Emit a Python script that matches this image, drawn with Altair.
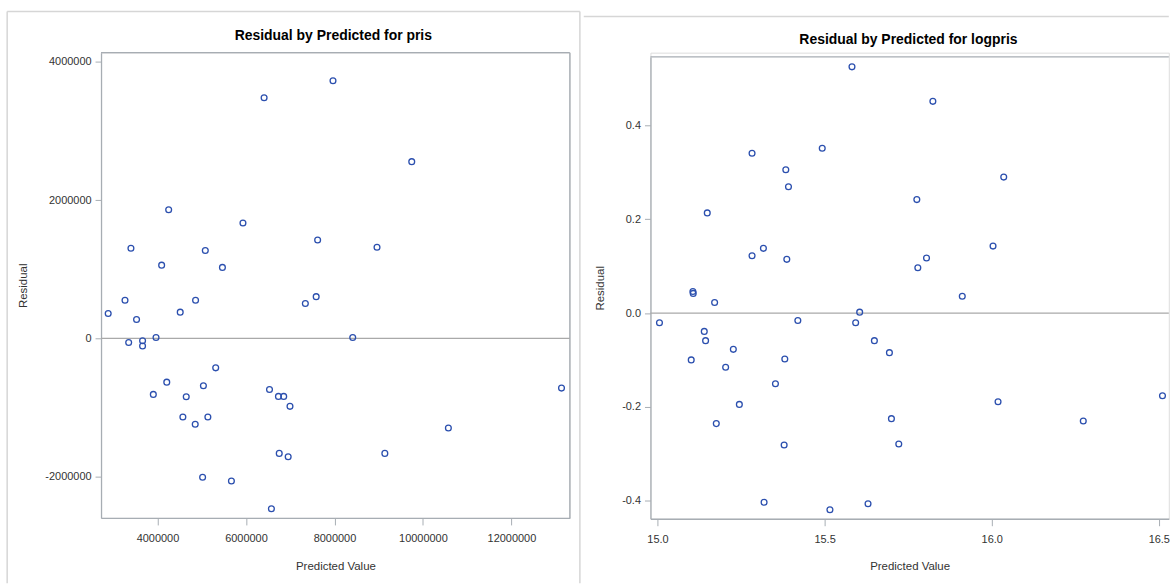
import altair as alt
import pandas as pd

# ---------------- data ----------------
pred_pris = [6410000, 7967000, 9747000, 4253000, 5932000, 7620000, 3400000, 5081000,
             8962000, 4094000, 5468000, 2886000, 3266000, 4861000, 4514000, 3527000,
             7342000, 7587000, 3349000, 3663000, 3663000, 3967000, 8413000, 5316000,
             4210000, 5038000, 3906000, 4650000, 6532000, 6734000, 6853000, 6995000,
             13132000, 4574000, 5139000, 4853000, 10575000, 6752000, 6954000, 9139000,
             5020000, 5671000, 6575000]
resid_pris = [3482000, 3727000, 2557000, 1862000, 1669000, 1424000, 1305000, 1272000,
              1319000, 1060000, 1027000, 360000, 552000, 552000, 380000, 273000,
              504000, 604000, -58000, -33000, -110000, 14000, 14000, -426000,
              -633000, -685000, -810000, -843000, -738000, -839000, -839000, -983000,
              -719000, -1137000, -1137000, -1242000, -1295000, -1663000, -1712000, -1663000,
              -2009000, -2062000, -2465000]

pred_log = [15.582, 15.824, 15.283, 15.493, 15.384, 15.392, 16.036, 15.776, 15.149,
            16.004, 15.283, 15.317, 15.387, 15.779, 15.805, 15.106, 15.107, 15.912,
            15.171, 15.006, 15.605, 15.593, 15.420, 15.140, 15.144, 15.649, 15.227,
            15.694, 15.101, 15.381, 15.204, 15.353, 15.245, 16.019, 16.511, 15.700,
            15.176, 16.274, 15.379, 15.722, 15.319, 15.516, 15.630]
resid_log = [0.5245, 0.451, 0.3406, 0.3512, 0.3054, 0.2693, 0.2897, 0.2418, 0.2134,
             0.1427, 0.1222, 0.1379, 0.1145, 0.0967, 0.1173, 0.0460, 0.0420, 0.036,
             0.0225, -0.0206, 0.002, -0.0206, -0.0157, -0.039, -0.0587, -0.0587, -0.0772,
             -0.0842, -0.0997, -0.0976, -0.1154, -0.1506, -0.1945, -0.1888, -0.176, -0.2248,
             -0.2354, -0.2299, -0.2808, -0.2787, -0.403, -0.4187, -0.406]

titles = ["Residual by Predicted for pris", "Residual by Predicted for logpris"]
x_title = "Predicted Value"
y_title = "Residual"
x_ticks_pris = [4000000, 6000000, 8000000, 10000000, 12000000]
y_ticks_pris = [-2000000, 0, 2000000, 4000000]
x_ticks_log = [15.0, 15.5, 16.0, 16.5]
y_ticks_log = [-0.4, -0.2, 0.0, 0.2, 0.4]

# ---------------- styling ----------------
FONT = "Liberation Sans, Arial, sans-serif"
TFONT = "Liberation Sans Narrow, Arial Narrow, Liberation Sans, Arial, sans-serif"
MARK = "#2b4fae"
FRAME = "#a7adb3"
ZERO = "#a9a9a9"
PANEL = "#d6d6d6"

W1, H1 = 471, 467.5
W2, H2 = 520.8, 468.3
TOP2 = 4.3  # right plot area starts slightly lower


def axis(**kw):
    base = dict(grid=False, domainColor=FRAME, domainWidth=1.3, tickColor=FRAME,
                tickSize=6, labelFont=FONT, labelFontSize=11, labelColor="#333333",
                titleFont=FONT, titleFontSize=11.5, titleFontWeight="normal",
                titleColor="#333333")
    base.update(kw)
    return alt.Axis(**base)


one = pd.DataFrame({"k": [0]})


def hline(x1, x2, y, color, w):
    return alt.Chart(one).mark_rule(color=color, strokeWidth=w).encode(
        x=alt.value(x1), x2=alt.value(x2), y=alt.value(y))


def vline(x, y1, y2, color, w):
    return alt.Chart(one).mark_rule(color=color, strokeWidth=w).encode(
        x=alt.value(x), y=alt.value(y1), y2=alt.value(y2))


def title_text(t, x, y):
    return alt.Chart(pd.DataFrame({"t": [t]})).mark_text(
        font=TFONT, fontSize=14, fontWeight="bold", color="#000000",
        align="center", baseline="alphabetic").encode(
        text="t:N", x=alt.value(x), y=alt.value(y))


# ---------------- left panel ----------------
df1 = pd.DataFrame({"pred": pred_pris, "resid": resid_pris})
xs1 = alt.Scale(domain=[2724000, 13320000], nice=False, zero=False)
ys1 = alt.Scale(domain=[-2597000, 4134000], nice=False, zero=False)

pts1 = alt.Chart(df1).mark_point(shape="circle", filled=False, size=34,
                                 strokeWidth=1.3, color=MARK, opacity=1).encode(
    x=alt.X("pred:Q", scale=xs1,
            axis=axis(values=x_ticks_pris, title=x_title, labelExpr="datum.value + ''",
                      labelPadding=8, tickSize=7, titleY=48.5, titleBaseline="middle")),
    y=alt.Y("resid:Q", scale=ys1,
            axis=axis(values=y_ticks_pris, title=y_title, labelExpr="datum.value + ''",
                      labelPadding=4, titleX=-78, titleBaseline="middle")),
)
zero1 = alt.Chart(pd.DataFrame({"r": [0]})).mark_rule(color=ZERO, strokeWidth=1.2).encode(
    y=alt.Y("r:Q", scale=ys1))

left = alt.layer(
    hline(-94.3, 481.1, -41.4, PANEL, 1.5),
    vline(-94.3, -41.4, 533, PANEL, 1.5),
    vline(481.1, -41.4, 533, PANEL, 1.5),
    hline(0, W1, 0, FRAME, 1.3),
    vline(W1, 0, H1, FRAME, 1.3),
    zero1,
    pts1,
    title_text(titles[0], 233.4, -13),
).properties(width=W1, height=H1)

# ---------------- right panel ----------------
df2 = pd.DataFrame({"pred": pred_log, "resid": resid_log})
xs2 = alt.Scale(domain=[14.979, 14.979 + W2 / 335.8], nice=False, zero=False)
ys2 = alt.Scale(domain=[-0.438, 0.5457], range=[H2, TOP2], nice=False, zero=False)

pts2 = alt.Chart(df2).mark_point(shape="circle", filled=False, size=34,
                                 strokeWidth=1.3, color=MARK, opacity=1).encode(
    x=alt.X("pred:Q", scale=xs2,
            axis=axis(values=x_ticks_log, title=x_title,
                      labelExpr="format(datum.value, '.1f')",
                      labelPadding=8, tickSize=7, titleY=47.7, titleBaseline="middle")),
    y=alt.Y("resid:Q", scale=ys2,
            axis=axis(values=y_ticks_log, title=y_title,
                      labelExpr="(datum.value < 0 ? '-' : '') + format(abs(datum.value), '.1f')",
                      labelPadding=4, titleX=-50.6, titleBaseline="middle")),
)
zero2 = alt.Chart(pd.DataFrame({"r": [0]})).mark_rule(color=ZERO, strokeWidth=1.2).encode(
    y=alt.Y("r:Q", scale=ys2))

right = alt.layer(
    hline(-67, W2, TOP2 - 40.7, PANEL, 1.5),
    hline(0, W2, TOP2, FRAME, 1.3),
    zero2,
    pts2,
    title_text(titles[1], 259.2, TOP2 - 12.5),
).properties(width=W2, height=H2)

chart = alt.hconcat(left, right, spacing=0).properties(
    padding={"left": 5.5, "top": 8.5, "right": 0, "bottom": 0}
).configure_view(stroke=None).configure(background="white")

chart.save("out.html", embed_options={"renderer": "svg", "actions": False})
